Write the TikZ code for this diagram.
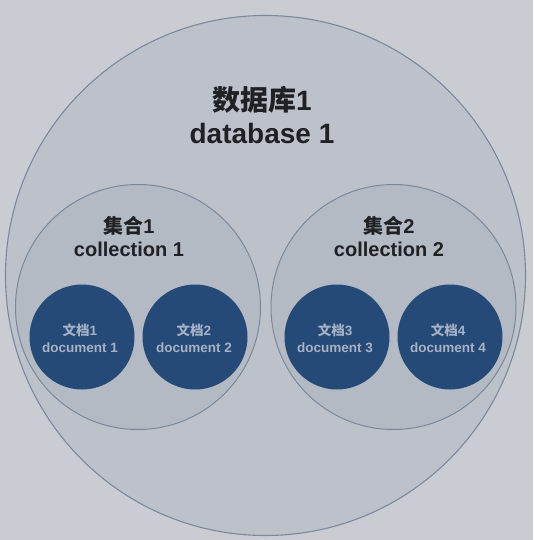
\documentclass[tikz,border=0pt]{standalone}
\usepackage{fontspec}
\setmainfont{Liberation Sans}
\newfontfamily\cjk{Noto Sans CJK SC}
\definecolor{bgc}{HTML}{C9CDD3}
\definecolor{dbfill}{HTML}{BDC2CA}
\definecolor{colfill}{HTML}{B3BAC4}
\definecolor{edgec}{HTML}{7C889A}
\definecolor{docfill}{HTML}{264A77}
\definecolor{doctext}{HTML}{A6B2C5}
\definecolor{titletext}{HTML}{1F2125}
\tikzset{
  dbcirc/.style={circle, draw=edgec, line width=1.1pt, fill=dbfill, minimum size=520pt, inner sep=0pt},
  colcirc/.style={circle, draw=edgec, line width=1pt, fill=colfill, minimum size=245pt, inner sep=0pt},
  doccirc/.style={circle, fill=docfill, minimum size=105pt, inner sep=0pt},
  bigtitle/.style={text=titletext, font=\bfseries\fontsize{28}{33}\selectfont, align=center},
  coltitle/.style={text=titletext, font=\bfseries\fontsize{20}{23}\selectfont, align=center},
  doclabel/.style={text=doctext, font=\bfseries\fontsize{13.5}{17}\selectfont, align=center}
}
\begin{document}
\begin{tikzpicture}[x=1pt,y=-1pt]
\fill[bgc] (0,0) rectangle (533,540);
\useasboundingbox (0,0) rectangle (533,540);
\node[dbcirc] (db) at (265.5,275.5) {};
\node[colcirc] (c1) at (138,307) {};
\node[colcirc] (c2) at (393.5,307) {};
\node[doccirc] (d1) at (82,337) {};
\node[doccirc] (d2) at (195,337) {};
\node[doccirc] (d3) at (337,337) {};
\node[doccirc] (d4) at (450,337) {};
\node[bigtitle] (dbt) at (262,115) {{\cjk\bfseries 数据库}1\\database 1};
\node[coltitle] (c1t) at (129,236) {{\cjk\bfseries 集合}1\\collection 1};
\node[coltitle] (c2t) at (389,236) {{\cjk\bfseries 集合}2\\collection 2};
\node[doclabel] (d1t) at (80,338) {{\cjk\bfseries 文档}1\\document 1};
\node[doclabel] (d2t) at (194,338) {{\cjk\bfseries 文档}2\\document 2};
\node[doclabel] (d3t) at (335,338) {{\cjk\bfseries 文档}3\\document 3};
\node[doclabel] (d4t) at (448,338) {{\cjk\bfseries 文档}4\\document 4};
\end{tikzpicture}
\end{document}
